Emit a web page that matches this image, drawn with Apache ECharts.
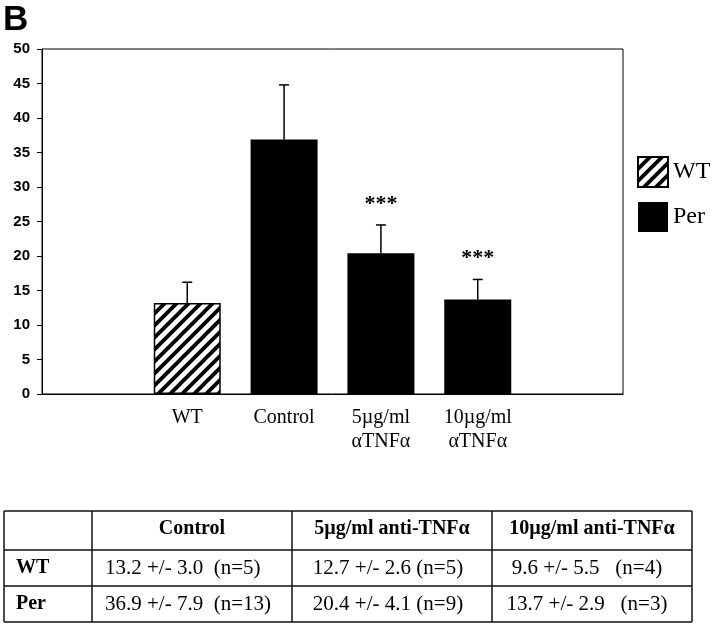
<!DOCTYPE html>
<html>
<head>
<meta charset="utf-8">
<script src="https://cdn.jsdelivr.net/npm/echarts@6/dist/echarts.min.js"></script>
<style>html,body{margin:0;padding:0;background:#fff}#c{width:720px;height:628px}</style>
</head>
<body>
<div id="c"></div>
<script>
// ---- data ----
const categories = ['WT', 'Control', '5µg/ml\nαTNFα', '10µg/ml\nαTNFα'];
const wtValues = [13.2, null, null, null];
const perValues = [null, 36.9, 20.4, 13.7];
const errValues = [3.0, 7.9, 4.1, 2.9];
const sigLabels = ['', '', '***', '***'];
const yTicks = { min: 0, max: 50, interval: 5 };

const tableColumns = ['Control', '5µg/ml anti-TNFα', '10µg/ml anti-TNFα'];
const tableRows = ['WT', 'Per'];
const tableWT = ['13.2 +/- 3.0  (n=5)', '12.7 +/- 2.6 (n=5)', '9.6 +/- 5.5   (n=4)'];
const tablePer = ['36.9 +/- 7.9  (n=13)', '20.4 +/- 4.1 (n=9)', '13.7 +/- 2.9   (n=3)'];

// ---- build ----
const axisCats = [''].concat(categories).concat(['']);
const pad = arr => [null].concat(arr).concat([null]);

function hatch() {
  const s = 12;
  const c = document.createElement('canvas');
  c.width = s; c.height = s;
  const g = c.getContext('2d');
  g.fillStyle = '#fff'; g.fillRect(0, 0, s, s);
  g.strokeStyle = '#000'; g.lineWidth = 3.8;
  g.beginPath();
  g.moveTo(-2, s + 2); g.lineTo(s + 2, -2);
  g.moveTo(-2, 2); g.lineTo(2, -2);
  g.moveTo(s - 2, s + 2); g.lineTo(s + 2, s - 2);
  g.stroke();
  return c;
}

const errData = [];
for (let i = 0; i < categories.length; i++) {
  const v = wtValues[i] != null ? wtValues[i] : perValues[i];
  errData.push([i + 1, v, errValues[i]]);
}

const serif = 'Liberation Serif';
const sans = 'Liberation Sans';

const graphic = [
  { type: 'text', left: 3, top: 3, style: { text: 'B', font: 'bold 35px ' + sans, fill: '#000' } }
];
// table
const colX = [4, 92, 292, 492, 692];
const rowY = [511, 550, 586, 622];
const lineStyle = { stroke: '#111', lineWidth: 1.5 };
colX.forEach(x => graphic.push({ type: 'line', shape: { x1: x, y1: rowY[0], x2: x, y2: rowY[3] }, style: lineStyle }));
rowY.forEach(y => graphic.push({ type: 'line', shape: { x1: colX[0], y1: y, x2: colX[4], y2: y }, style: lineStyle }));
const rowC = [529, 568, 604];
tableColumns.forEach((t, i) => graphic.push({ type: 'text', style: { text: t, x: (colX[i + 1] + colX[i + 2]) / 2, y: rowC[0], align: 'center', verticalAlign: 'middle', font: 'bold 20px ' + serif, fill: '#000' } }));
tableRows.forEach((t, r) => graphic.push({ type: 'text', style: { text: t, x: 16, y: rowC[r + 1], align: 'left', verticalAlign: 'middle', font: 'bold 20px ' + serif, fill: '#000' } }));
[tableWT, tablePer].forEach((row, r) => {
  row.forEach((t, i) => {
    const x = i === 0 ? 105 : (i === 1 ? 388 : 587);
    graphic.push({ type: 'text', style: { text: t, x: x, y: rowC[r + 1], align: i === 0 ? 'left' : 'center', verticalAlign: 'middle', font: '21px ' + serif, fill: '#000' } });
  });
});

const chart = echarts.init(document.getElementById('c'), null, { renderer: 'canvas' });
chart.setOption({
  animation: false,
  backgroundColor: '#fff',
  grid: { left: 42, top: 49, right: 97, bottom: 234, show: true, borderColor: '#000', borderWidth: 1 },
  legend: {
    data: ['WT', 'Per'], orient: 'vertical', left: 637, top: 156,
    itemWidth: 30, itemHeight: 30, itemGap: 14, icon: 'rect', padding: 0,
    textStyle: { fontFamily: serif, fontSize: 24, color: '#000', padding: [0, 0, 0, 0] }
  },
  xAxis: {
    type: 'category', data: axisCats,
    axisLine: { lineStyle: { color: '#000', width: 1 } },
    axisTick: { show: false },
    axisLabel: { interval: 0, color: '#000', fontFamily: serif, fontSize: 20, lineHeight: 24, margin: 12 }
  },
  yAxis: {
    type: 'value', min: yTicks.min, max: yTicks.max, interval: yTicks.interval,
    splitLine: { show: false },
    axisLine: { show: true, lineStyle: { color: '#000', width: 1 } },
    axisTick: { show: true, length: 5, lineStyle: { color: '#000' } },
    axisLabel: { color: '#000', fontFamily: sans, fontWeight: 'bold', fontSize: 15, margin: 12 }
  },
  series: [
    {
      name: 'WT', type: 'bar', data: pad(wtValues), barWidth: 67, barGap: '-100%',
      itemStyle: { color: { image: hatch(), repeat: 'repeat' }, borderColor: '#000', borderWidth: 1.5 }
    },
    {
      name: 'Per', type: 'bar', data: pad(perValues), barWidth: 67, barGap: '-100%',
      itemStyle: { color: '#000' }
    },
    {
      name: 'err', type: 'custom', data: errData, z: 5,
      renderItem: function (params, api) {
        const x = api.value(0), v = api.value(1), e = api.value(2);
        const p0 = api.coord([x, v]);
        const p1 = api.coord([x, v + e]);
        const children = [
          { type: 'line', shape: { x1: p0[0], y1: p0[1], x2: p1[0], y2: p1[1] }, style: { stroke: '#000', lineWidth: 1.5 } },
          { type: 'line', shape: { x1: p1[0] - 5, y1: p1[1], x2: p1[0] + 5, y2: p1[1] }, style: { stroke: '#000', lineWidth: 1.5 } }
        ];
        const s = sigLabels[params.dataIndex];
        if (s) {
          children.push({ type: 'text', style: { text: s, x: p1[0], y: p1[1] - 10, align: 'center', verticalAlign: 'bottom', font: 'bold 22px ' + serif, fill: '#000' } });
        }
        return { type: 'group', children: children };
      }
    }
  ],
  graphic: graphic
});
</script>
</body>
</html>
